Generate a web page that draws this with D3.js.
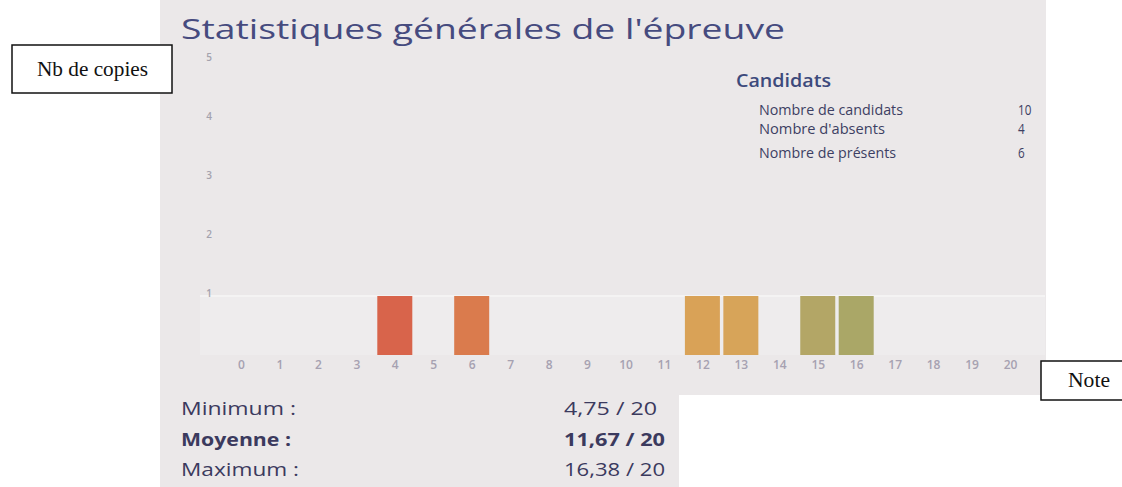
<!DOCTYPE html>
<html><head><meta charset="utf-8">
<script src="https://cdn.jsdelivr.net/npm/d3@7"></script>
<style>
html,body{margin:0;padding:0;background:#fff;}
svg{display:block;}
</style></head>
<body>
<svg id="c" width="1122" height="487"></svg>
<script>
// ---- data ----
const notes = [0,1,2,3,4,5,6,7,8,9,10,11,12,13,14,15,16,17,18,19,20];
const barNotes = [4, 6, 12, 13, 15, 16];
const barCounts = [1, 1, 1, 1, 1, 1];
const barColors = ["#d8644b", "#da7b4d", "#d9a257", "#d7a459", "#b3a666", "#aaa767"];
const yTicks = [1, 2, 3, 4, 5];
const candLabels = ["Nombre de candidats", "Nombre d'absents", "Nombre de présents"];
const candValues = [10, 4, 6];
const statLabels = ["Minimum :", "Moyenne :", "Maximum :"];
const statValues = ["4,75 / 20", "11,67 / 20", "16,38 / 20"];
const title = "Statistiques générales de l'épreuve";

const svg = d3.select("#c");

// gray scanned panel
svg.append("path")
  .attr("d", "M160,0 H1046 V395 H679 V487 H160 Z")
  .attr("fill", "#ebe8e9");

// scales
const x = d3.scaleLinear().domain([0, 20]).range([241, 1010]);
const y = d3.scaleLinear().domain([0, 5]).range([355, 60]);

// lighter plot band
svg.append("rect")
  .attr("x", 200).attr("y", y(1)).attr("width", 845).attr("height", y(0) - y(1))
  .attr("fill", "#eeeced");
svg.append("line")
  .attr("x1", 200).attr("x2", 1045).attr("y1", y(1)).attr("y2", y(1))
  .attr("stroke", "#f4f3f3").attr("stroke-width", 2);

// bars
const bw = 35;
svg.append("g").selectAll("rect").data(barNotes).join("rect")
  .attr("x", d => x(d) - bw / 2)
  .attr("y", (d, i) => y(barCounts[i]))
  .attr("width", bw)
  .attr("height", (d, i) => y(0) - y(barCounts[i]))
  .attr("fill", (d, i) => barColors[i]);

// x axis labels
const xAxis = d3.axisBottom(x).tickValues(notes).tickSize(0).tickPadding(0).tickFormat(d3.format("d"));
const gx = svg.append("g").attr("transform", "translate(0,360)").call(xAxis);
gx.select(".domain").remove();
gx.selectAll("text").attr("font-family", "Open Sans").attr("font-size", 12).attr("font-weight", 600)
  .attr("fill", "#a6a1b1").attr("dy", "0.71em");

// y axis labels
const yAxis = d3.axisLeft(y).tickValues(yTicks).tickSize(0).tickPadding(0).tickFormat(d3.format("d"));
const gy = svg.append("g").attr("transform", "translate(212,0)").call(yAxis);
gy.select(".domain").remove();
gy.selectAll("text").attr("font-family", "Open Sans").attr("font-size", 10).attr("font-weight", 600)
  .attr("fill", "#a4a2ad").attr("dy", "0.0em");

// title
svg.append("text").attr("x", 181).attr("y", 39)
  .attr("font-family", "Open Sans").attr("font-size", 28).attr("font-weight", 500)
  .attr("fill", "#464b7f").attr("textLength", 604).attr("lengthAdjust", "spacingAndGlyphs")
  .text(title);

// candidats block
svg.append("text").attr("x", 736).attr("y", 87)
  .attr("font-family", "Open Sans").attr("font-weight", 600).attr("font-size", 18)
  .attr("fill", "#3d4a7c").attr("textLength", 95).attr("lengthAdjust", "spacingAndGlyphs")
  .text("Candidats");
const candY = [115, 134, 158];
const candW = [144, 126, 137];
svg.append("g").selectAll("text").data(candLabels).join("text")
  .attr("x", 759).attr("y", (d, i) => candY[i])
  .attr("font-family", "Open Sans").attr("font-size", 15).attr("fill", "#3d3f63")
  .attr("textLength", (d, i) => candW[i]).attr("lengthAdjust", "spacingAndGlyphs")
  .text(d => d);
svg.append("g").selectAll("text").data(candValues).join("text")
  .attr("x", 1018).attr("y", (d, i) => candY[i])
  .attr("font-family", "Open Sans").attr("font-size", 15).attr("fill", "#3d3f63")
  .attr("transform", `translate(${1018 * 0.22},0) scale(0.78,1)`)
  .text(d => d);

// stats block
const statY = [415, 446, 476];
const statLW = [115, 110, 118];
const statVW = [93, 101, 101];
svg.append("g").selectAll("text").data(statLabels).join("text")
  .attr("x", 181).attr("y", (d, i) => statY[i])
  .attr("font-family", "Open Sans").attr("font-size", 17.5)
  .attr("font-weight", (d, i) => i === 1 ? 700 : 400)
  .attr("textLength", (d, i) => statLW[i]).attr("lengthAdjust", "spacingAndGlyphs")
  .attr("fill", "#3b3a5e").text(d => d);
svg.append("g").selectAll("text").data(statValues).join("text")
  .attr("x", 564).attr("y", (d, i) => statY[i])
  .attr("font-family", "Open Sans").attr("font-size", 17.5)
  .attr("font-weight", (d, i) => i === 1 ? 700 : 400)
  .attr("textLength", (d, i) => statVW[i]).attr("lengthAdjust", "spacingAndGlyphs")
  .attr("fill", "#3b3a5e").text(d => d);

// annotation boxes
svg.append("rect").attr("x", 12).attr("y", 45).attr("width", 160).attr("height", 48)
  .attr("fill", "#fff").attr("stroke", "#111").attr("stroke-width", 1.5);
svg.append("text").attr("x", 37).attr("y", 76)
  .attr("font-family", "Liberation Serif").attr("font-size", 20).attr("fill", "#111")
  .attr("textLength", 111).attr("lengthAdjust", "spacingAndGlyphs")
  .text("Nb de copies");
svg.append("rect").attr("x", 1041).attr("y", 361).attr("width", 90).attr("height", 39)
  .attr("fill", "#fff").attr("stroke", "#111").attr("stroke-width", 1.5);
svg.append("text").attr("x", 1068).attr("y", 387)
  .attr("font-family", "Liberation Serif").attr("font-size", 20).attr("fill", "#111")
  .attr("textLength", 42).attr("lengthAdjust", "spacingAndGlyphs")
  .text("Note");
</script>
</body></html>
